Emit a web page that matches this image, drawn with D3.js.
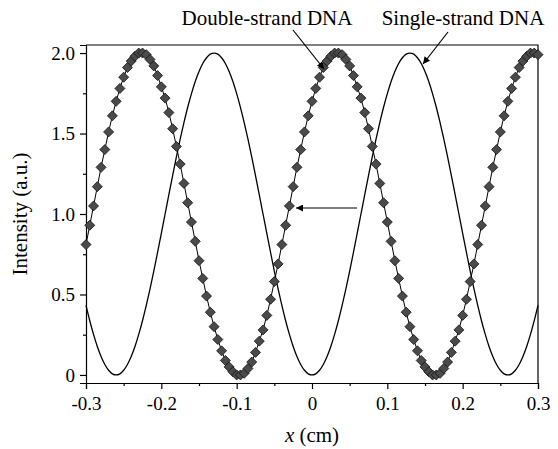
<!DOCTYPE html>
<html>
<head>
<meta charset="utf-8">
<script src="https://cdnjs.cloudflare.com/ajax/libs/d3/7.8.5/d3.min.js"></script>
<style>
    body { margin: 0; background: #fff; }
    svg text { font-family: "Liberation Serif", "Times New Roman", serif; fill: #000; }
</style>
</head>
<body>
<div id="chart"></div>
<script>
// x positions of the samples (cm)
var xValues = [
    -0.300, -0.295, -0.290, -0.285, -0.280, -0.275, -0.270, -0.265, -0.260, -0.255,
    -0.250, -0.245, -0.240, -0.235, -0.230, -0.225, -0.220, -0.215, -0.210, -0.205,
    -0.200, -0.195, -0.190, -0.185, -0.180, -0.175, -0.170, -0.165, -0.160, -0.155,
    -0.150, -0.145, -0.140, -0.135, -0.130, -0.125, -0.120, -0.115, -0.110, -0.105,
    -0.100, -0.095, -0.090, -0.085, -0.080, -0.075, -0.070, -0.065, -0.060, -0.055,
    -0.050, -0.045, -0.040, -0.035, -0.030, -0.025, -0.020, -0.015, -0.010, -0.005,
    0.000, 0.005, 0.010, 0.015, 0.020, 0.025, 0.030, 0.035, 0.040, 0.045,
    0.050, 0.055, 0.060, 0.065, 0.070, 0.075, 0.080, 0.085, 0.090, 0.095,
    0.100, 0.105, 0.110, 0.115, 0.120, 0.125, 0.130, 0.135, 0.140, 0.145,
    0.150, 0.155, 0.160, 0.165, 0.170, 0.175, 0.180, 0.185, 0.190, 0.195,
    0.200, 0.205, 0.210, 0.215, 0.220, 0.225, 0.230, 0.235, 0.240, 0.245,
    0.250, 0.255, 0.260, 0.265, 0.270, 0.275, 0.280, 0.285, 0.290, 0.295,
    0.300
];

// double-strand DNA intensity (diamonds)
var doubleStrand = [
    0.81, 0.93, 1.05, 1.17, 1.29, 1.40, 1.51, 1.61, 1.70, 1.78,
    1.85, 1.91, 1.95, 1.98, 2.00, 2.00, 1.99, 1.96, 1.92, 1.86,
    1.79, 1.72, 1.63, 1.53, 1.42, 1.31, 1.19, 1.07, 0.95, 0.83,
    0.71, 0.60, 0.49, 0.39, 0.30, 0.22, 0.15, 0.09, 0.05, 0.02,
    0.00, 0.00, 0.01, 0.04, 0.08, 0.14, 0.21, 0.28, 0.37, 0.47,
    0.58, 0.69, 0.81, 0.93, 1.05, 1.17, 1.29, 1.40, 1.51, 1.61,
    1.70, 1.78, 1.85, 1.91, 1.95, 1.98, 2.00, 2.00, 1.99, 1.96,
    1.92, 1.86, 1.79, 1.72, 1.63, 1.53, 1.42, 1.31, 1.19, 1.07,
    0.95, 0.83, 0.71, 0.60, 0.49, 0.39, 0.30, 0.22, 0.15, 0.09,
    0.05, 0.02, 0.00, 0.00, 0.01, 0.04, 0.08, 0.14, 0.21, 0.28,
    0.37, 0.47, 0.58, 0.69, 0.81, 0.93, 1.05, 1.17, 1.29, 1.40,
    1.51, 1.61, 1.70, 1.78, 1.85, 1.91, 1.95, 1.98, 2.00, 2.00,
    1.99
];

// single-strand DNA intensity (thin line)
var singleStrand = [
    0.432, 0.337, 0.252, 0.177, 0.115, 0.065, 0.029, 0.007, 0.000, 0.007,
    0.029, 0.065, 0.115, 0.177, 0.252, 0.337, 0.432, 0.535, 0.645, 0.761,
    0.880, 1.000, 1.120, 1.239, 1.355, 1.465, 1.568, 1.663, 1.748, 1.823,
    1.885, 1.935, 1.971, 1.993, 2.000, 1.993, 1.971, 1.935, 1.885, 1.823,
    1.748, 1.663, 1.568, 1.465, 1.355, 1.239, 1.120, 1.000, 0.880, 0.761,
    0.645, 0.535, 0.432, 0.337, 0.252, 0.177, 0.115, 0.065, 0.029, 0.007,
    0.000, 0.007, 0.029, 0.065, 0.115, 0.177, 0.252, 0.337, 0.432, 0.535,
    0.645, 0.761, 0.880, 1.000, 1.120, 1.239, 1.355, 1.465, 1.568, 1.663,
    1.748, 1.823, 1.885, 1.935, 1.971, 1.993, 2.000, 1.993, 1.971, 1.935,
    1.885, 1.823, 1.748, 1.663, 1.568, 1.465, 1.355, 1.239, 1.120, 1.000,
    0.880, 0.761, 0.645, 0.535, 0.432, 0.337, 0.252, 0.177, 0.115, 0.065,
    0.029, 0.007, 0.000, 0.007, 0.029, 0.065, 0.115, 0.177, 0.252, 0.337,
    0.432
];

var xTicks = [-0.3, -0.2, -0.1, 0, 0.1, 0.2, 0.3];
var xTickLabels = ["-0.3", "-0.2", "-0.1", "0", "0.1", "0.2", "0.3"];
var xMinorTicks = [-0.25, -0.15, -0.05, 0.05, 0.15, 0.25];
var yTicks = [0, 0.5, 1.0, 1.5, 2.0];
var yTickLabels = ["0", "0.5", "1.0", "1.5", "2.0"];
var yMinorTicks = [0.25, 0.75, 1.25, 1.75];

var width = 558, height = 449;
var margin = {top: 45, right: 20, bottom: 66, left: 86};

var svg = d3.select("#chart").append("svg")
    .attr("width", width)
    .attr("height", height);

var x = d3.scaleLinear().domain([-0.3, 0.3]).range([margin.left, width - margin.right]);
var y = d3.scaleLinear().domain([-0.05, 2.05]).range([height - margin.bottom, margin.top]);

// arrow marker
svg.append("defs").append("marker")
    .attr("id", "arrow")
    .attr("viewBox", "0 0 10 10")
    .attr("refX", 10)
    .attr("refY", 5)
    .attr("markerWidth", 12)
    .attr("markerHeight", 7)
    .attr("markerUnits", "userSpaceOnUse")
    .attr("orient", "auto")
    .append("path")
    .attr("d", "M0,0 L10,5 L0,10 Z")
    .attr("fill", "#000");

// frame (top and right)
svg.append("path")
    .attr("d", "M" + x(-0.3) + "," + y(2.05) + "H" + x(0.3) + "V" + y(-0.05))
    .attr("fill", "none")
    .attr("stroke", "#000")
    .attr("stroke-width", 1.2);

// axes
var xAxis = d3.axisBottom(x).tickValues(xTicks).tickSize(6).tickPadding(8)
    .tickFormat(function (d, i) { return xTickLabels[i]; });
var gx = svg.append("g").attr("transform", "translate(0," + y(-0.05) + ")").call(xAxis);
svg.append("g").attr("transform", "translate(0," + y(-0.05) + ")")
    .call(d3.axisBottom(x).tickValues(xMinorTicks).tickSize(3).tickFormat(""))
    .select(".domain").remove();

var yAxis = d3.axisLeft(y).tickValues(yTicks).tickSize(6).tickPadding(5)
    .tickFormat(function (d, i) { return yTickLabels[i]; });
var gy = svg.append("g").attr("transform", "translate(" + x(-0.3) + ",0)").call(yAxis);
svg.append("g").attr("transform", "translate(" + x(-0.3) + ",0)")
    .call(d3.axisLeft(y).tickValues(yMinorTicks).tickSize(3).tickFormat(""))
    .select(".domain").remove();

svg.selectAll(".domain, .tick line").attr("stroke", "#000").attr("stroke-width", 1.2);
svg.selectAll(".tick text")
    .style("font-family", "'Liberation Serif', 'Times New Roman', serif")
    .style("font-size", "19px")
    .attr("fill", "#000");

// axis titles
svg.append("text")
    .attr("x", x(0))
    .attr("y", 442)
    .attr("text-anchor", "middle")
    .style("font-size", "21px")
    .html("<tspan font-style='italic'>x</tspan> (cm)");

svg.append("text")
    .attr("transform", "translate(27," + y(1) + ") rotate(-90)")
    .attr("text-anchor", "middle")
    .style("font-size", "21px")
    .text("Intensity (a.u.)");

// single-strand curve
var ssData = xValues.map(function (d, i) { return [d, singleStrand[i]]; });
svg.append("path")
    .datum(ssData)
    .attr("fill", "none")
    .attr("stroke", "#000")
    .attr("stroke-width", 1.3)
    .attr("d", d3.line()
        .x(function (d) { return x(d[0]); })
        .y(function (d) { return y(d[1]); })
        .curve(d3.curveCatmullRom));

// double-strand curve with diamonds
var dsData = xValues.map(function (d, i) { return [d, doubleStrand[i]]; });
svg.append("path")
    .datum(dsData)
    .attr("fill", "none")
    .attr("stroke", "#000")
    .attr("stroke-width", 1)
    .attr("d", d3.line()
        .x(function (d) { return x(d[0]); })
        .y(function (d) { return y(d[1]); }));

svg.selectAll(".diamond")
    .data(dsData)
    .enter()
    .append("path")
    .attr("class", "diamond")
    .attr("transform", function (d) { return "translate(" + x(d[0]) + "," + y(d[1]) + ")"; })
    .attr("d", "M0,-5 L5,0 L0,5 L-5,0 Z")
    .attr("fill", "#4a4a4a")
    .attr("stroke", "#111")
    .attr("stroke-width", 0.8);

// annotations
svg.append("text")
    .attr("x", 267)
    .attr("y", 25)
    .attr("text-anchor", "middle")
    .style("font-size", "21px")
    .text("Double-strand DNA");

svg.append("text")
    .attr("x", 463)
    .attr("y", 25)
    .attr("text-anchor", "middle")
    .style("font-size", "21px")
    .text("Single-strand DNA");

function arrow(x1, y1, x2, y2) {
    svg.append("line")
        .attr("x1", x1).attr("y1", y1)
        .attr("x2", x2).attr("y2", y2)
        .attr("stroke", "#000")
        .attr("stroke-width", 1.2)
        .attr("marker-end", "url(#arrow)");
}

arrow(293, 30, 324, 69);
arrow(448, 32, 423, 64);
arrow(357, 208, 296, 208);
</script>
</body>
</html>
